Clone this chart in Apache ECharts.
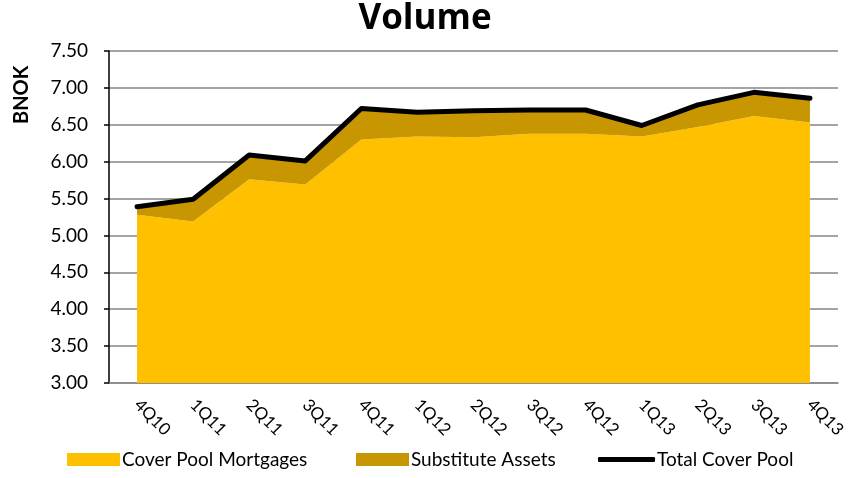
<!DOCTYPE html>
<html>
<head>
<meta charset="utf-8">
<script src="https://cdn.jsdelivr.net/npm/echarts@6/dist/echarts.min.js"></script>
<style>
  html, body { margin: 0; padding: 0; background: #fff; }
  #chart { width: 850px; height: 478px; }
</style>
</head>
<body>
<div id="chart"></div>
<script>
const quarters = ['4Q10','1Q11','2Q11','3Q11','4Q11','1Q12','2Q12','3Q12','4Q12','1Q13','2Q13','3Q13','4Q13']
const mortgages = [5.28, 5.19, 5.76, 5.69, 6.30, 6.34, 6.33, 6.38, 6.38, 6.34, 6.47, 6.62, 6.53]
const substitute = [0.11, 0.30, 0.33, 0.32, 0.42, 0.33, 0.36, 0.32, 0.32, 0.15, 0.30, 0.32, 0.33]
const totalPool = [5.39, 5.49, 6.09, 6.01, 6.72, 6.67, 6.69, 6.70, 6.70, 6.49, 6.77, 6.94, 6.86]

const font = 'Lato, "Open Sans", sans-serif'

const chart = echarts.init(document.getElementById('chart'))

const legendBase = {
  bottom: 4,
  itemHeight: 13,
  itemWidth: 53,
  itemGap: 5,
  textStyle: { fontFamily: font, fontSize: 19, color: '#000', padding: [0, 0, 0, -3] },
  selectedMode: false
}

chart.setOption({
  animation: false,
  title: {
    text: 'Volume',
    left: 'center',
    top: -3,
    textStyle: { fontFamily: '"Open Sans", Lato, sans-serif', fontSize: 35, fontWeight: 'bold', color: '#000' }
  },
  graphic: [{
    type: 'text',
    x: 12,
    y: 124,
    rotation: Math.PI / 2,
    style: { text: 'BNOK', font: 'bold 20px ' + font, fill: '#000' }
  }],
  legend: [
    Object.assign({}, legendBase, { left: 62, data: [{ name: 'Cover Pool Mortgages', icon: 'rect' }] }),
    Object.assign({}, legendBase, { left: 351, data: [{ name: 'Substitute Assets', icon: 'rect' }] }),
    Object.assign({}, legendBase, { left: 593, itemWidth: 57, itemHeight: 5, data: [{ name: 'Total Cover Pool', icon: 'roundRect' }] })
  ],
  grid: { left: 109, right: 12, top: 51, bottom: 95 },
  xAxis: {
    type: 'category',
    data: quarters,
    boundaryGap: true,
    axisLine: { lineStyle: { color: '#868686', width: 1.5 } },
    axisTick: { show: false },
    axisLabel: { rotate: -45, margin: 19, fontFamily: font, fontSize: 17, color: '#000' }
  },
  yAxis: {
    type: 'value',
    min: 3,
    max: 7.5,
    interval: 0.5,
    axisLine: { show: true, lineStyle: { color: '#000', width: 1.5 } },
    axisTick: { show: true, length: 5, lineStyle: { color: '#000', width: 1.5 } },
    axisLabel: {
      fontFamily: font, fontSize: 19, color: '#000', margin: 21,
      formatter: v => v.toFixed(2)
    },
    splitLine: { lineStyle: { color: '#868686', width: 1.5 } }
  },
  series: [
    {
      name: 'Cover Pool Mortgages',
      type: 'line',
      stack: 'pool',
      data: mortgages,
      showSymbol: false,
      lineStyle: { width: 0 },
      itemStyle: { color: '#FFC000' },
      areaStyle: { color: '#FFC000', opacity: 1 }
    },
    {
      name: 'Substitute Assets',
      type: 'line',
      stack: 'pool',
      data: substitute,
      showSymbol: false,
      lineStyle: { width: 0 },
      itemStyle: { color: '#C89600' },
      areaStyle: { color: '#C89600', opacity: 1 }
    },
    {
      name: 'Total Cover Pool',
      type: 'line',
      data: totalPool,
      showSymbol: false,
      z: 5,
      itemStyle: { color: '#000' },
      lineStyle: { color: '#000', width: 5, cap: 'round', join: 'round' }
    }
  ]
})
</script>
</body>
</html>
